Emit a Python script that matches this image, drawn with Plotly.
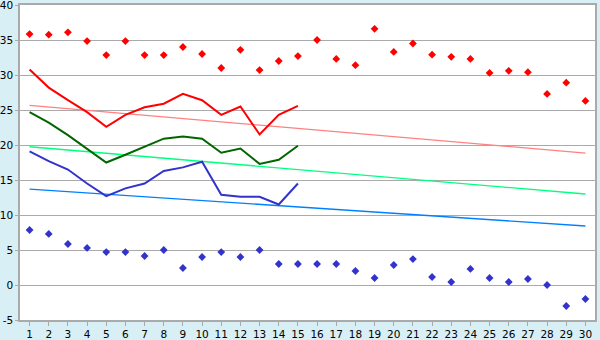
import plotly.graph_objects as go

days = list(range(1, 31))
max_points = [35.85, 35.76, 36.1, 34.85, 32.85, 34.85, 32.85, 32.85, 34.0, 33.0,
              31.0, 33.6, 30.7, 32.0, 32.7, 35.0, 32.3, 31.4, 36.6, 33.3,
              34.5, 32.9, 32.6, 32.3, 30.3, 30.6, 30.4, 27.3, 28.9, 26.3]
min_points = [7.86, 7.29, 5.86, 5.29, 4.71, 4.71, 4.14, 5.0, 2.43, 4.0,
              4.71, 4.0, 5.0, 3.0, 3.0, 3.0, 3.0, 2.0, 1.0, 2.86,
              3.71, 1.14, 0.43, 2.29, 1.0, 0.43, 0.86, 0.0, -3.0, -2.0]
line_days = list(range(1, 16))
red_line = [30.8, 28.2, 26.4, 24.7, 22.6, 24.3, 25.4, 25.9, 27.3, 26.4,
            24.3, 25.5, 21.5, 24.3, 25.6]
green_line = [24.7, 23.2, 21.4, 19.4, 17.5, 18.6, 19.8, 20.9, 21.2, 20.9,
              18.9, 19.5, 17.3, 17.9, 19.9]
blue_line = [19.1, 17.7, 16.5, 14.5, 12.7, 13.8, 14.5, 16.3, 16.8, 17.6,
             12.9, 12.6, 12.6, 11.5, 14.5]
trend_days = [1, 30]
trend_red = [25.65, 18.85]
trend_green = [19.75, 13.0]
trend_blue = [13.7, 8.43]
y_ticks = [-5, 0, 5, 10, 15, 20, 25, 30, 35, 40]
y_labels = ["-5", "0", "5", "10", "15", "20", "25", "30", "35", "40"]

fig = go.Figure()
fig.add_trace(go.Scatter(x=trend_days, y=trend_red, mode="lines",
                         line=dict(color="#FF8080", width=1.3)))
fig.add_trace(go.Scatter(x=trend_days, y=trend_green, mode="lines",
                         line=dict(color="#00FF80", width=1.3)))
fig.add_trace(go.Scatter(x=trend_days, y=trend_blue, mode="lines",
                         line=dict(color="#0080FF", width=1.3)))
fig.add_trace(go.Scatter(x=line_days, y=red_line, mode="lines",
                         line=dict(color="#FF0000", width=2)))
fig.add_trace(go.Scatter(x=line_days, y=green_line, mode="lines",
                         line=dict(color="#006600", width=2)))
fig.add_trace(go.Scatter(x=line_days, y=blue_line, mode="lines",
                         line=dict(color="#3333CC", width=2)))
fig.add_trace(go.Scatter(x=days, y=max_points, mode="markers",
                         marker=dict(color="#FF0000", symbol="diamond", size=6)))
fig.add_trace(go.Scatter(x=days, y=min_points, mode="markers",
                         marker=dict(color="#3333CC", symbol="diamond", size=6)))

fig.update_layout(
    width=600, height=340,
    margin=dict(l=20, r=5, t=5, b=20),
    paper_bgcolor="#D9EFF6",
    plot_bgcolor="#FFFFFF",
    showlegend=False,
    font=dict(family="DejaVu Sans, Verdana", size=11, color="#000000"),
    xaxis=dict(range=[0.5, 30.5], tickmode="array", tickvals=days,
               ticktext=[str(d) for d in days], showgrid=False,
               ticks="outside", ticklen=4, tickcolor="#AAAAAA",
               showline=True, linecolor="#AAAAAA", linewidth=1.5, mirror=True,
               zeroline=False, fixedrange=True, automargin=False,
               ticklabeloverflow="allow", tickfont=dict(size=10.5)),
    yaxis=dict(range=[-5, 40], tickmode="array", tickvals=y_ticks,
               ticktext=y_labels, showgrid=True, gridcolor="#AAAAAA",
               gridwidth=1, ticks="outside", ticklen=3, tickcolor="#AAAAAA",
               showline=True, linecolor="#AAAAAA", linewidth=1.5, mirror=True,
               zeroline=False, fixedrange=True, automargin=False,
               ticklabeloverflow="allow", tickfont=dict(size=10.5)),
)

fig.write_html("out.html")
